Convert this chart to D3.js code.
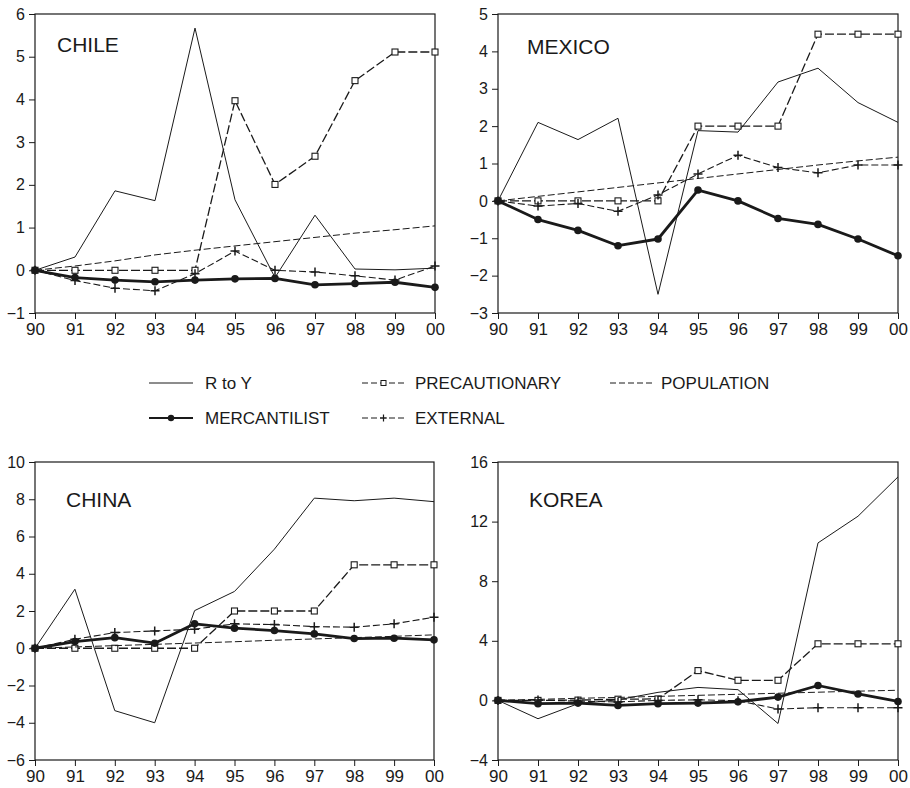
<!DOCTYPE html>
<html>
<head>
<meta charset="utf-8">
<script src="https://cdn.jsdelivr.net/npm/d3@7"></script>
<style>
  html, body { margin: 0; padding: 0; background: #fff; }
  svg { display: block; }
  text { font-family: "Liberation Sans", Arial, Helvetica, sans-serif; fill: #1a1a1a; }
</style>
</head>
<body>
<svg id="chart" width="910" height="788"></svg>
<script>
// ---------- DATA ----------
const years = ["90","91","92","93","94","95","96","97","98","99","00"];

const seriesNames = ["R to Y", "PRECAUTIONARY", "POPULATION", "MERCANTILIST", "EXTERNAL"];

const chileRtoY  = [0, 0.31, 1.86, 1.63, 5.67, 1.65, -0.17, 1.29, 0.03, 0.01, 0.05];
const chilePrec  = [0, 0, 0, 0, 0, 3.97, 2.01, 2.67, 4.44, 5.11, 5.11];
const chilePop   = [0, 0.1, 0.22, 0.36, 0.47, 0.57, 0.67, 0.77, 0.87, 0.95, 1.04];
const chileMerc  = [0, -0.17, -0.23, -0.27, -0.23, -0.2, -0.19, -0.34, -0.31, -0.28, -0.4];
const chileExt   = [0, -0.24, -0.42, -0.48, -0.08, 0.45, 0.0, -0.04, -0.13, -0.23, 0.1];

const mexicoRtoY = [0, 2.1, 1.64, 2.21, -2.5, 1.88, 1.84, 3.18, 3.55, 2.63, 2.1];
const mexicoPrec = [0, 0, 0, 0, 0, 2.0, 2.0, 2.0, 4.46, 4.46, 4.46];
const mexicoPop  = [0, 0.12, 0.24, 0.36, 0.48, 0.6, 0.72, 0.84, 0.96, 1.07, 1.17];
const mexicoMerc = [0, -0.5, -0.79, -1.2, -1.02, 0.29, 0.0, -0.47, -0.63, -1.02, -1.47];
const mexicoExt  = [0, -0.14, -0.07, -0.28, 0.16, 0.72, 1.22, 0.89, 0.75, 0.96, 0.96];

const chinaRtoY  = [0, 3.17, -3.35, -4.0, 2.02, 3.05, 5.32, 8.06, 7.92, 8.06, 7.87];
const chinaPrec  = [0, 0, 0, 0, 0, 2.0, 2.0, 2.0, 4.48, 4.48, 4.48];
const chinaPop   = [0, 0.07, 0.14, 0.21, 0.28, 0.35, 0.43, 0.5, 0.57, 0.64, 0.72];
const chinaMerc  = [0, 0.36, 0.57, 0.27, 1.31, 1.08, 0.95, 0.77, 0.52, 0.54, 0.45];
const chinaExt   = [0, 0.48, 0.84, 0.93, 1.02, 1.31, 1.27, 1.16, 1.13, 1.31, 1.67];

const koreaRtoY  = [0, -1.23, -0.22, 0.04, 0.54, 0.87, 0.72, -1.55, 10.57, 12.36, 15.0];
const koreaPrec  = [0, 0, 0.02, 0.08, 0.1, 2.0, 1.35, 1.35, 3.8, 3.8, 3.8];
const koreaPop   = [0, 0.07, 0.14, 0.2, 0.27, 0.34, 0.41, 0.48, 0.55, 0.62, 0.68];
const koreaMerc  = [0, -0.22, -0.18, -0.34, -0.22, -0.18, -0.09, 0.22, 1.0, 0.43, -0.07];
const koreaExt   = [0, 0.02, -0.05, -0.1, 0.0, 0.04, -0.02, -0.58, -0.49, -0.49, -0.49];

const chileTicks  = [-1, 0, 1, 2, 3, 4, 5, 6];
const mexicoTicks = [-3, -2, -1, 0, 1, 2, 3, 4, 5];
const chinaTicks  = [-6, -4, -2, 0, 2, 4, 6, 8, 10];
const koreaTicks  = [-4, 0, 4, 8, 12, 16];

// ---------- LAYOUT / STYLE ----------
const ink = "#1a1a1a";
const svg = d3.select("#chart");

const panels = [
  { title: "CHILE",  series: [chileRtoY, chilePrec, chilePop, chileMerc, chileExt],
    ticks: chileTicks,  left: 35,  right: 435, top: 14,  bottom: 313, tdx: 22, tdy: 38 },
  { title: "MEXICO", series: [mexicoRtoY, mexicoPrec, mexicoPop, mexicoMerc, mexicoExt],
    ticks: mexicoTicks, left: 498, right: 898, top: 14,  bottom: 313, tdx: 29, tdy: 40 },
  { title: "CHINA",  series: [chinaRtoY, chinaPrec, chinaPop, chinaMerc, chinaExt],
    ticks: chinaTicks,  left: 35,  right: 434, top: 462, bottom: 760, tdx: 31, tdy: 45 },
  { title: "KOREA",  series: [koreaRtoY, koreaPrec, koreaPop, koreaMerc, koreaExt],
    ticks: koreaTicks,  left: 498, right: 898, top: 462, bottom: 760, tdx: 31, tdy: 45 }
];

const styles = [
  { width: 1.0, dash: null,     marker: null },
  { width: 1.3, dash: "9,3",    marker: "square" },
  { width: 1.0, dash: "7,3",    marker: null },
  { width: 2.8, dash: null,     marker: "circle" },
  { width: 1.1, dash: "7,3",    marker: "plus" }
];

function drawMarker(g, type, cx, cy) {
  if (type === "square") {
    g.append("rect").attr("x", cx - 3).attr("y", cy - 3).attr("width", 6).attr("height", 6)
      .attr("fill", "#fff").attr("stroke", ink).attr("stroke-width", 1.1);
  } else if (type === "circle") {
    g.append("circle").attr("cx", cx).attr("cy", cy).attr("r", 3.8).attr("fill", ink);
  } else if (type === "plus") {
    g.append("path").attr("d", `M${cx-4.5},${cy}H${cx+4.5}M${cx},${cy-4.5}V${cy+4.5}`)
      .attr("stroke", ink).attr("stroke-width", 1.5).attr("fill", "none");
  }
}

panels.forEach(p => {
  const x = d3.scalePoint().domain(years).range([p.left, p.right]);
  const y = d3.scaleLinear().domain([p.ticks[0], p.ticks[p.ticks.length - 1]]).range([p.bottom, p.top]);
  const g = svg.append("g");

  // axes
  const ay = g.append("g").attr("transform", `translate(${p.left},0)`)
    .call(d3.axisLeft(y).tickValues(p.ticks).tickSize(6).tickSizeOuter(0).tickPadding(4).tickFormat(d3.format("d")));
  ay.select(".domain").remove();
  ay.selectAll("line").attr("stroke", ink);
  ay.selectAll("text").attr("font-size", 16).attr("fill", ink)
    .style("font-family", '"Liberation Sans", Arial, sans-serif');

  const ax = g.append("g").attr("transform", `translate(0,${p.bottom})`)
    .call(d3.axisBottom(x).tickSize(6).tickSizeOuter(0).tickPadding(4));
  ax.select(".domain").remove();
  ax.selectAll("line").attr("stroke", ink);
  ax.selectAll("text").attr("font-size", 17).attr("fill", ink)
    .style("font-family", '"Liberation Sans", Arial, sans-serif');

  // frame
  g.append("rect").attr("x", p.left).attr("y", p.top)
    .attr("width", p.right - p.left).attr("height", p.bottom - p.top)
    .attr("fill", "none").attr("stroke", ink).attr("stroke-width", 1.2);

  // title
  g.append("text").attr("x", p.left + p.tdx).attr("y", p.top + p.tdy)
    .attr("font-size", 21).text(p.title);

  // series
  p.series.forEach((vals, i) => {
    const st = styles[i];
    const line = d3.line().x((d, j) => x(years[j])).y(d => y(d));
    g.append("path").datum(vals).attr("d", line)
      .attr("fill", "none").attr("stroke", ink).attr("stroke-width", st.width)
      .attr("stroke-linejoin", "round")
      .attr("stroke-dasharray", st.dash);
    if (st.marker) {
      vals.forEach((v, j) => drawMarker(g, st.marker, x(years[j]), y(v)));
    }
  });
});

// ---------- LEGEND ----------
const legendItems = [
  { idx: 0, x1: 149, x2: 193, tx: 205, y: 383 },
  { idx: 1, x1: 362, x2: 405, tx: 415, y: 383 },
  { idx: 2, x1: 610, x2: 655, tx: 661, y: 383 },
  { idx: 3, x1: 149, x2: 193, tx: 205, y: 418 },
  { idx: 4, x1: 362, x2: 405, tx: 415, y: 418 }
];
const lg = svg.append("g");
legendItems.forEach(it => {
  const st = styles[it.idx];
  lg.append("line").attr("x1", it.x1).attr("x2", it.x2).attr("y1", it.y).attr("y2", it.y)
    .attr("stroke", ink).attr("stroke-width", it.idx === 3 ? 2 : 1)
    .attr("stroke-dasharray", st.dash ? "6,3" : null);
  if (st.marker) {
    const cx = (it.x1 + it.x2) / 2;
    if (st.marker === "square") {
      lg.append("rect").attr("x", cx - 2.5).attr("y", it.y - 2.5).attr("width", 5).attr("height", 5)
        .attr("fill", "#fff").attr("stroke", ink).attr("stroke-width", 1);
    } else if (st.marker === "circle") {
      lg.append("circle").attr("cx", cx).attr("cy", it.y).attr("r", 3.2).attr("fill", ink);
    } else {
      lg.append("path").attr("d", `M${cx-3.5},${it.y}H${cx+3.5}M${cx},${it.y-3.5}V${it.y+3.5}`)
        .attr("stroke", ink).attr("stroke-width", 1.2);
    }
  }
  lg.append("text").attr("x", it.tx).attr("y", it.y).attr("dy", "0.36em")
    .attr("font-size", 17).text(seriesNames[it.idx]);
});
</script>
</body>
</html>
